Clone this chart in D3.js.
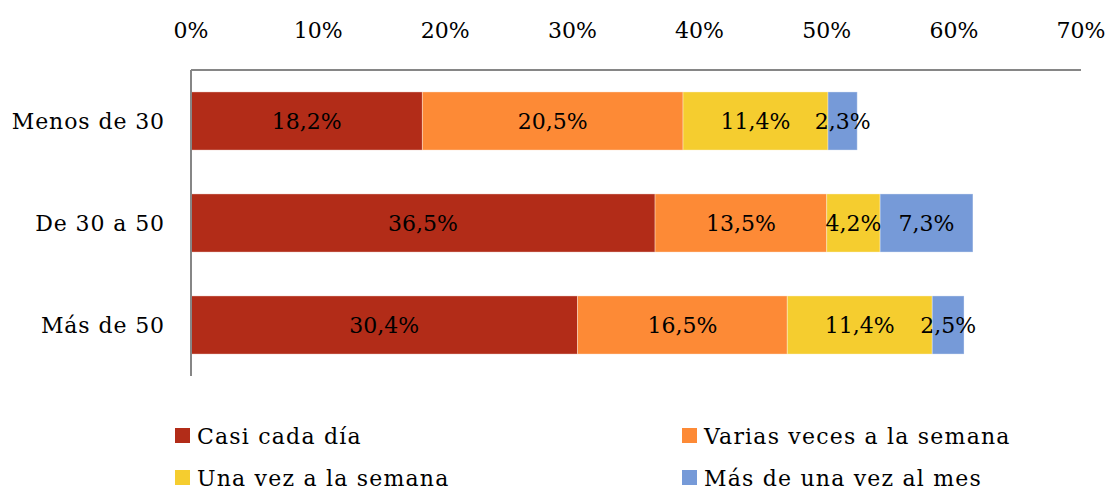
<!DOCTYPE html>
<html>
<head>
<meta charset="utf-8">
<script src="https://cdn.jsdelivr.net/npm/d3@7"></script>
<style>
  body { margin: 0; background: #fff; }
  text { font-family: "DejaVu Serif", serif; fill: #000; }
</style>
</head>
<body>
<script>
var groups = ["Menos de 30", "De 30 a 50", "Más de 50"];
var seriesNames = ["Casi cada día", "Varias veces a la semana", "Una vez a la semana", "Más de una vez al mes"];
var seriesColors = ["#B22C18", "#FD8A36", "#F5CD2F", "#769AD8"];
var casiCadaDia = [18.2, 36.5, 30.4];
var variasVeces = [20.5, 13.5, 16.5];
var unaVez = [11.4, 4.2, 11.4];
var masDeUnaVezMes = [2.3, 7.3, 2.5];
var tickValues = [0, 10, 20, 30, 40, 50, 60, 70];

var width = 1109, height = 490;
var plotLeft = 191, plotRight = 1081, plotTop = 70, plotBottom = 376;

var svg = d3.select("body").append("svg")
  .attr("width", width)
  .attr("height", height);

var rows = groups.map(function (g, i) {
  return { group: g, values: [casiCadaDia[i], variasVeces[i], unaVez[i], masDeUnaVezMes[i]] };
});

var x = d3.scaleLinear().domain([0, 70]).range([plotLeft, plotRight]);
var y = d3.scaleBand().domain(groups).range([plotTop, plotBottom]).paddingInner(0.43).paddingOuter(0.215);

// bars
rows.forEach(function (row) {
  var acc = 0;
  var segs = row.values.map(function (v, k) {
    var s = { start: acc, end: acc + v, v: v, k: k };
    acc += v;
    return s;
  });
  var g = svg.append("g");
  g.selectAll("rect").data(segs).enter().append("rect")
    .attr("x", function (d) { return x(d.start); })
    .attr("y", y(row.group))
    .attr("width", function (d) { return x(d.end) - x(d.start); })
    .attr("height", y.bandwidth())
    .attr("fill", function (d) { return seriesColors[d.k]; })
    .attr("stroke", "rgba(255,255,255,0.35)")
    .attr("stroke-width", 1);
  g.selectAll("text").data(segs).enter().append("text")
    .attr("x", function (d) { return (x(d.start) + x(d.end)) / 2; })
    .attr("y", y(row.group) + y.bandwidth() / 2)
    .attr("dy", "0.36em")
    .attr("text-anchor", "middle")
    .style("font-size", "22px")
    .text(function (d) { return d.v.toFixed(1).replace(".", ",") + "%"; });
});

// axes lines
svg.append("line")
  .attr("x1", plotLeft).attr("x2", plotRight).attr("y1", plotTop).attr("y2", plotTop)
  .attr("stroke", "#868686").attr("stroke-width", 2);
svg.append("line")
  .attr("x1", plotLeft).attr("x2", plotLeft).attr("y1", plotTop).attr("y2", plotBottom)
  .attr("stroke", "#868686").attr("stroke-width", 2);

// top tick labels
svg.selectAll(".tick").data(tickValues).enter().append("text")
  .attr("class", "tick")
  .attr("x", function (d) { return x(d); })
  .attr("y", 38)
  .attr("text-anchor", "middle")
  .style("font-size", "22px")
  .text(function (d) { return d + "%"; });

// category labels
svg.selectAll(".cat").data(groups).enter().append("text")
  .attr("class", "cat")
  .attr("x", 165)
  .attr("y", function (d) { return y(d) + y.bandwidth() / 2; })
  .attr("dy", "0.36em")
  .attr("text-anchor", "end")
  .style("font-size", "22px")
  .style("letter-spacing", "0.9px")
  .text(function (d) { return d; });

// legend
var legendPos = [[175, 436], [682, 436], [175, 478], [682, 478]];
var leg = svg.selectAll(".leg").data(seriesNames).enter().append("g")
  .attr("class", "leg")
  .attr("transform", function (d, i) { return "translate(" + legendPos[i][0] + "," + legendPos[i][1] + ")"; });
leg.append("rect")
  .attr("x", 0).attr("y", -8).attr("width", 15).attr("height", 15)
  .attr("fill", function (d, i) { return seriesColors[i]; });
leg.append("text")
  .attr("x", 22).attr("y", 0).attr("dy", "0.36em")
  .style("font-size", "22px")
  .style("letter-spacing", "1.2px")
  .text(function (d) { return d; });
</script>
</body>
</html>
